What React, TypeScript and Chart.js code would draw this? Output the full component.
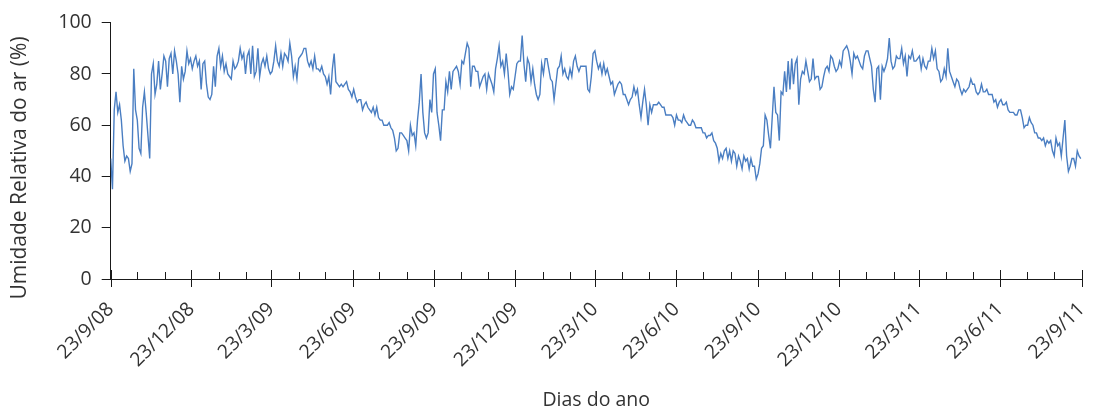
import React, { useEffect, useRef } from 'react';
import { Chart, registerables } from 'chart.js';

Chart.register(...registerables);

// Series: daily relative humidity sampled every STEP_DAYS days, starting 23/9/2008
const START_UTC = Date.UTC(2008, 8, 23);
const STEP_DAYS = 2;

// 23/9/08 – 4/2/09
const rhPart1 = [47, 35, 66, 73, 65, 68, 62, 52, 46, 48, 47, 42, 45, 82, 66, 62, 51, 49, 67, 73, 65, 56, 47, 80, 84, 72, 76, 85, 74, 80, 87, 85, 75, 86, 88, 80, 89, 85, 80, 69, 83, 78, 81, 89, 84, 86, 82, 85, 87, 83, 85, 74, 84, 85, 76, 71, 70, 72, 83, 75, 87, 90, 83, 87, 81, 84, 80, 79];
// 6/2/09 – 25/6/09
const rhPart2 = [78, 85, 82, 83, 85, 90, 86, 88, 80, 87, 89, 80, 91, 79, 81, 90, 79, 84, 86, 83, 87, 82, 80, 81, 85, 91, 85, 83, 88, 83, 88, 87, 85, 92, 87, 79, 83, 78, 86, 87, 88, 90, 90, 85, 83, 85, 82, 87, 82, 82, 81, 83, 80, 79, 76, 79, 72, 82, 88, 77, 76, 75, 76, 75, 76, 77, 74, 73, 71, 74];
// 26/6/09 – 12/11/09
const rhPart3 = [71, 69, 70, 70, 66, 68, 69, 67, 66, 65, 67, 64, 67, 63, 62, 62, 60, 60, 60, 61, 59, 58, 55, 50, 51, 57, 57, 56, 55, 54, 50, 60, 56, 57, 52, 62, 69, 80, 65, 57, 55, 57, 70, 65, 80, 82, 65, 60, 54, 66, 66, 77, 73, 81, 74, 81, 82, 83, 81, 76, 85, 84, 88, 92, 90, 75, 83, 83, 81, 81];
// 13/11/09 – 2/4/10
const rhPart4 = [75, 77, 79, 80, 74, 80, 78, 76, 73, 82, 86, 91, 83, 85, 80, 88, 81, 72, 75, 74, 79, 84, 85, 85, 95, 84, 77, 86, 84, 77, 82, 76, 72, 70, 72, 84, 80, 86, 86, 82, 78, 77, 70, 76, 82, 83, 87, 80, 82, 79, 78, 82, 79, 85, 87, 83, 81, 83, 83, 83, 83, 74, 73, 79, 88, 89, 85, 82, 84, 80, 84];
// 4/4/10 – 20/8/10
const rhPart5 = [80, 82, 79, 76, 77, 72, 74, 76, 77, 76, 72, 72, 70, 68, 70, 71, 75, 72, 74, 68, 63, 69, 74, 68, 60, 68, 65, 68, 68, 68, 69, 68, 67, 67, 64, 64, 64, 64, 63, 60, 64, 62, 62, 61, 64, 62, 61, 60, 60, 62, 61, 59, 59, 59, 59, 57, 57, 55, 56, 56, 57, 54, 53, 51, 46, 49, 47, 50, 51, 47];
// 22/8/10 – 9/1/11
const rhPart6 = [50, 46, 50, 49, 44, 48, 46, 43, 48, 46, 47, 43, 47, 44, 44, 39, 41, 45, 51, 52, 64, 62, 56, 51, 63, 75, 65, 64, 54, 73, 72, 81, 73, 85, 74, 86, 76, 84, 86, 68, 78, 81, 80, 85, 81, 77, 78, 86, 78, 79, 79, 74, 75, 79, 82, 83, 81, 87, 86, 83, 81, 82, 85, 83, 89, 90, 91, 89, 85, 80, 88];
// 11/1/11 – 31/5/11
const rhPart7 = [86, 87, 85, 83, 82, 87, 89, 89, 86, 83, 74, 69, 82, 83, 70, 83, 81, 83, 86, 94, 85, 82, 83, 87, 86, 86, 90, 84, 87, 79, 87, 86, 89, 85, 85, 86, 87, 82, 86, 83, 82, 85, 85, 90, 86, 89, 82, 81, 77, 78, 82, 79, 90, 81, 79, 77, 75, 78, 77, 74, 72, 74, 73, 74, 75, 78, 76, 76, 73, 72, 73];
// 2/6/11 – 22/9/11
const rhPart8 = [76, 73, 73, 74, 72, 72, 72, 69, 70, 67, 69, 70, 68, 68, 69, 66, 65, 65, 65, 64, 64, 66, 66, 63, 59, 60, 60, 63, 61, 60, 57, 57, 55, 55, 54, 55, 52, 54, 53, 54, 50, 48, 55, 52, 53, 48, 55, 62, 48, 42, 44, 47, 47, 44, 50, 48, 47];

// Axis ticks: major every 3 months, minor every month (on the 23rd)
const tickLabels = ['23/9/08', '23/12/08', '23/3/09', '23/6/09', '23/9/09', '23/12/09', '23/3/10', '23/6/10', '23/9/10', '23/12/10', '23/3/11', '23/6/11', '23/9/11'];
const MONTHS_SPAN = 36;
const yTicks = [0, 20, 40, 60, 80, 100];

const Y_TITLE = 'Umidade Relativa do ar (%)';
const X_TITLE = 'Dias do ano';

const LINE_COLOR = '#4a7ec2';
const AXIS_COLOR = '#1a1a1a';
const TEXT_COLOR = '#333333';
const FONT_FAMILY = '"Open Sans", "Liberation Sans", sans-serif';

const DAY_MS = 86400000;
const monthDay = (m: number) => Math.round((Date.UTC(2008, 8 + m, 23) - START_UTC) / DAY_MS);

export default function App() {
  const canvasRef = useRef<HTMLCanvasElement | null>(null);

  useEffect(() => {
    const canvas = canvasRef.current;
    if (!canvas) return;

    const values = [...rhPart1, ...rhPart2, ...rhPart3, ...rhPart4, ...rhPart5, ...rhPart6, ...rhPart7, ...rhPart8];
    const points = values.map((v, i) => ({ x: i * STEP_DAYS, y: v }));
    const monthDays = Array.from({ length: MONTHS_SPAN + 1 }, (_, m) => monthDay(m));
    const majorDays = monthDays.filter((_, m) => m % 3 === 0);
    const endDay = monthDays[monthDays.length - 1];

    const xTickMarks = {
      id: 'xTickMarks',
      afterDraw(chart: any) {
        const { ctx, chartArea } = chart;
        const x = chart.scales.x;
        const yb = chartArea.bottom;
        ctx.save();
        ctx.strokeStyle = AXIS_COLOR;
        ctx.lineWidth = 1;
        ctx.beginPath();
        monthDays.forEach((d, m) => {
          const px = Math.round(x.getPixelForValue(d)) + 0.5;
          if (m % 3 === 0) {
            ctx.moveTo(px, yb - 9);
            ctx.lineTo(px, yb + 8);
          } else {
            ctx.moveTo(px, yb - 7);
            ctx.lineTo(px, yb);
          }
        });
        ctx.stroke();
        ctx.restore();
      },
    };

    const yTitle = {
      id: 'yTitle',
      afterDraw(chart: any) {
        const { ctx } = chart;
        ctx.save();
        ctx.translate(20, 168);
        ctx.rotate(-Math.PI / 2);
        ctx.font = `21px ${FONT_FAMILY}`;
        ctx.fillStyle = TEXT_COLOR;
        ctx.textAlign = 'center';
        ctx.textBaseline = 'middle';
        ctx.fillText(Y_TITLE, 0, 0);
        ctx.restore();
      },
    };

    const chart = new Chart(canvas, {
      type: 'line',
      data: {
        datasets: [
          {
            label: Y_TITLE,
            data: points,
            borderColor: LINE_COLOR,
            borderWidth: 1.4,
            pointRadius: 0,
            tension: 0,
            fill: false,
          },
        ],
      },
      options: {
        animation: false,
        responsive: false,
        maintainAspectRatio: false,
        layout: { padding: { left: 0, top: 22.7, right: 11.3, bottom: 0 } },
        plugins: { legend: { display: false }, tooltip: { enabled: false } },
        scales: {
          x: {
            type: 'linear',
            min: 0,
            max: endDay,
            grid: { display: false },
            border: { display: true, color: AXIS_COLOR, width: 1 },
            afterBuildTicks(scale: any) {
              scale.ticks = majorDays.map((d) => ({ value: d }));
            },
            afterFit(scale: any) {
              scale.height = 133;
              scale.paddingLeft = 0;
              scale.paddingRight = 0;
            },
            ticks: {
              autoSkip: false,
              minRotation: 45,
              maxRotation: 45,
              padding: 11,
              color: TEXT_COLOR,
              font: { family: FONT_FAMILY, size: 19.5 },
              callback: (value: any) => {
                const idx = majorDays.indexOf(Number(value));
                return idx >= 0 ? tickLabels[idx] : '';
              },
            },
            title: {
              display: true,
              text: X_TITLE,
              color: TEXT_COLOR,
              font: { family: FONT_FAMILY, size: 19.5 },
              padding: { top: 0, bottom: 0 },
            },
          },
          y: {
            min: 0,
            max: 100,
            grid: { display: true, drawOnChartArea: false, drawTicks: true, tickLength: 9, color: AXIS_COLOR },
            border: { display: true, color: AXIS_COLOR, width: 1 },
            afterBuildTicks(scale: any) {
              scale.ticks = yTicks.map((v) => ({ value: v }));
            },
            afterFit(scale: any) {
              scale.width = 110.7;
              scale.paddingTop = 0;
              scale.paddingBottom = 0;
            },
            ticks: {
              padding: 10,
              color: TEXT_COLOR,
              font: { family: FONT_FAMILY, size: 19.5 },
            },
          },
        },
      },
      plugins: [xTickMarks, yTitle],
    });

    return () => chart.destroy();
  }, []);

  return (
    <div style={{ position: 'fixed', left: 0, top: 0, width: 1093, height: 412, background: '#fff' }}>
      <canvas ref={canvasRef} width={1093} height={412} style={{ display: 'block' }} />
    </div>
  );
}
